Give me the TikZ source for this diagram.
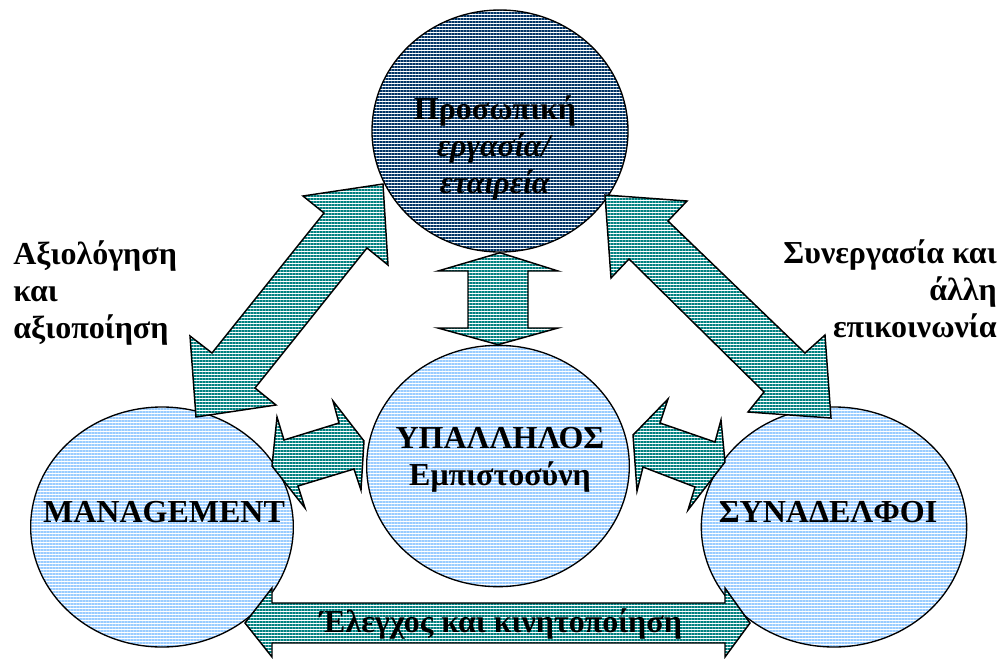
\documentclass[tikz,border=0pt]{standalone}
\usepackage{fontspec}
\setmainfont{Liberation Serif}
\usetikzlibrary{patterns.meta,shapes.geometric}

\definecolor{navyline}{RGB}{0,51,102}
\definecolor{skyline}{RGB}{153,204,255}
\definecolor{tealline}{RGB}{0,128,128}

\tikzset{
  hatch/.style={preaction={fill=white},
    pattern={Lines[angle=0,distance=2.25pt,line width=1.1pt]}, pattern color=#1},
  disc/.style={ellipse, draw=black, line width=1pt, inner sep=0pt, hatch=#1},
  blockarrow/.style={draw=black, line width=1.1pt, line join=miter, hatch=tealline},
  disctext/.style={font=\fontsize{24}{27.5}\selectfont\bfseries, text=black, align=center, inner sep=0pt},
  sidetext/.style={font=\fontsize{24}{27.5}\selectfont\bfseries, text=black, inner sep=0pt},
  bartext/.style={font=\fontsize{24}{26}\selectfont\bfseries, text=black, inner sep=0pt},
}

\begin{document}
\begin{tikzpicture}[x=0.75pt,y=-0.75pt]
\useasboundingbox (0,0) rectangle (1001,658);
\fill[white] (0,0) rectangle (1001,658);

% the four discs
\node[disc=navyline, minimum width=192pt, minimum height=181.5pt] (firm) at (500,131) {};
\node[disc=skyline, minimum width=197pt, minimum height=181pt] (employee) at (498,466) {};
\node[disc=skyline, minimum width=197pt, minimum height=180pt] (management) at (162,527) {};
\node[disc=skyline, minimum width=199pt, minimum height=180pt] (colleagues) at (834,527) {};

% block arrows between the discs
\draw[blockarrow] (383,184) -- (303,196) -- (324,213) -- (212,353) -- (190,336)
  -- (196,417) -- (276,405) -- (255,388) -- (367,248) -- (388,265) -- cycle;
\draw[blockarrow] (605,195) -- (687,201) -- (668,221) -- (805,353) -- (825,335)
  -- (831,418) -- (748,412) -- (764,392) -- (629,259) -- (611,278) -- cycle;
\draw[blockarrow] (firm.south) -- (558,271) -- (528,271) -- (528,328) -- (558,328)
  -- (employee.north) -- (438,328) -- (468,328) -- (468,271) -- (438,271) -- cycle;
\draw[blockarrow] (272,466) -- (277,417) -- (284,440) -- (339,423) -- (333,401)
  -- (364,441) -- (361,490) -- (354,469) -- (298,486) -- (305,508) -- cycle;
\draw[blockarrow] (633,435) -- (668,399) -- (660,423) -- (715,442) -- (721,420)
  -- (725,462) -- (688,510) -- (695,487) -- (643,467) -- (637,491) -- cycle;
\draw[blockarrow] (245,623) -- (272,588) -- (272,603) -- (725,603) -- (725,588)
  -- (750,623) -- (725,657) -- (725,643) -- (272,643) -- (272,657) -- cycle;

% texts (multi-line nodes sit on the baseline of their last line)
\node[disctext] (firmtext) at (495,148) {Προσωπική\\\textit{εργασία/}\\\textit{εταιρεία}};
\node[disctext] (emptext) at (500,459.5) {ΥΠΑΛΛΗΛΟΣ\\Εμπιστοσύνη};
\node[disctext, anchor=base] (mgmttext) at (164,522) {MANAGEMENT};
\node[disctext, anchor=base] (coltext) at (828,522) {ΣΥΝΑΔΕΛΦΟΙ};
\node[bartext, anchor=base] (ctrl) at (501,632) {Έλεγχος και κινητοποίηση};
\node[sidetext, align=left, anchor=base west] (evaluate) at (13,338) {Αξιολόγηση\\και\\αξιοποίηση};
\node[sidetext, align=right, anchor=base east] (cooperate) at (997,337) {Συνεργασία και\\άλλη\\επικοινωνία};
\end{tikzpicture}
\end{document}
